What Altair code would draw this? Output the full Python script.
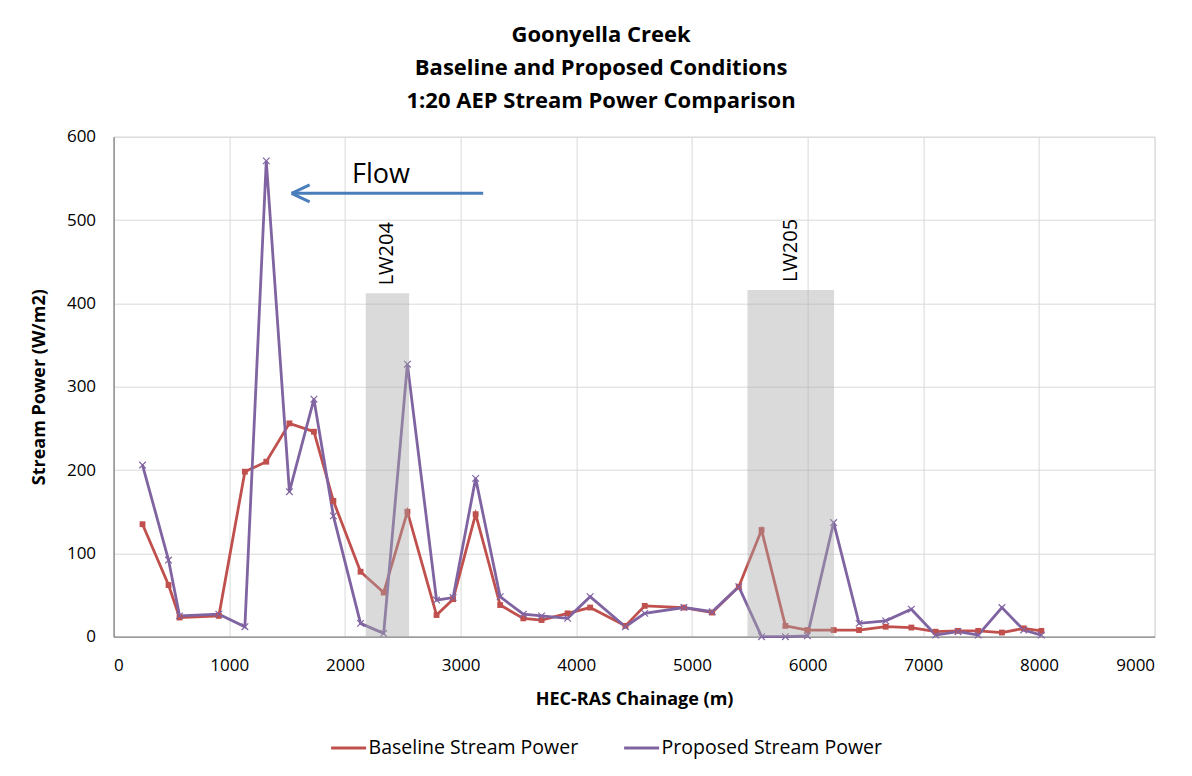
import altair as alt
import pandas as pd

# ---- data ----
chainage = [250, 475, 570, 910, 1135, 1320, 1520, 1732, 1900, 2135, 2335, 2540, 2792, 2935,
            3130, 3342, 3542, 3700, 3925, 4120, 4425, 4592, 4930, 5175, 5405, 5602, 5808,
            5998, 6225, 6445, 6675, 6897, 7107, 7300, 7475, 7680, 7868, 8021]
baseline = [135, 62, 23, 25, 198, 210, 256, 246, 163, 78, 53, 150, 26, 45,
            147, 38, 22, 20, 28, 35, 13, 37, 35, 29, 60, 128, 13,
            8, 8, 8, 12, 11, 6, 7, 7, 5, 10, 7]
proposed = [206, 92, 25, 27, 12, 571, 174, 285, 145, 16, 4, 327, 44, 47,
            190, 48, 27, 25, 22, 48, 12, 28, 35, 30, 60, 0, 0,
            1, 137, 16, 19, 33, 2, 6, 2, 35, 8, 2]

series_names = ["Baseline Stream Power", "Proposed Stream Power"]
series_colors = ["#C0504D", "#8064A2"]

lw_names = ["LW204", "LW205"]
lw_start = [2180, 5480]
lw_end = [2555, 6229]
lw_top = [412, 416]

flow_tail = [3195]
flow_head = [1539]
flow_y = [532]
flow_text_x = [2312]
flow_text_y = [544]

x_ticks = list(range(0, 9001, 1000))
y_ticks = list(range(0, 601, 100))

title_lines = ["Goonyella Creek", "Baseline and Proposed Conditions", "1:20 AEP Stream Power Comparison"]

# ---- tables ----
df = pd.concat([
    pd.DataFrame({"chainage": chainage, "value": baseline, "series": series_names[0]}),
    pd.DataFrame({"chainage": chainage, "value": proposed, "series": series_names[1]}),
], ignore_index=True)
lw_df = pd.DataFrame({"name": lw_names, "x0": lw_start, "x1": lw_end, "top": lw_top})
flow_df = pd.DataFrame({"tail": flow_tail, "head": flow_head, "y": flow_y,
                        "tx": flow_text_x, "ty": flow_text_y, "label": ["Flow"]})

FONT = "Open Sans"
W, H = 1041, 500

xs = alt.Scale(domain=[0, 9000], nice=False)
ys = alt.Scale(domain=[0, 600], nice=False)

axis_style = dict(ticks=False, labelFont=FONT, titleFont=FONT, labelFontSize=17, titleFontSize=18,
                  titleFontWeight="bold", labelColor="#000000", titleColor="#000000",
                  gridColor="#D9D9D9", gridWidth=1, domainColor="#868686", domainWidth=1.3,
                  format="d")
xax = alt.Axis(values=x_ticks, title="HEC-RAS Chainage (m)", labelPadding=21, titlePadding=17,
               **axis_style)
yax = alt.Axis(values=y_ticks, title="Stream Power (W/m2)", labelPadding=18, titlePadding=18,
               **axis_style)

color = alt.Color("series:N", scale=alt.Scale(domain=series_names, range=series_colors),
                  legend=alt.Legend(title=None, orient="none", direction="horizontal",
                                    legendX=216, legendY=592, symbolType="stroke",
                                    symbolSize=1225, symbolStrokeWidth=3, labelFontSize=19.5,
                                    labelFont=FONT, columnPadding=39, labelOffset=1,
                                    labelLimit=400, labelColor="#000000"))

base = alt.Chart(df)
lines = base.mark_line(strokeWidth=2.8).encode(
    x=alt.X("chainage:Q", scale=xs, axis=xax),
    y=alt.Y("value:Q", scale=ys, axis=yax),
    color=color,
)
sq = base.transform_filter(alt.datum.series == series_names[0]).mark_point(
    shape="square", filled=True, size=34, color=series_colors[0], opacity=1
).encode(x=alt.X("chainage:Q", scale=xs), y=alt.Y("value:Q", scale=ys))
xm = base.transform_filter(alt.datum.series == series_names[1]).mark_point(
    shape="M-1,-1L1,1M-1,1L1,-1", filled=False, size=44, strokeWidth=1.2,
    color=series_colors[1], opacity=1
).encode(x=alt.X("chainage:Q", scale=xs), y=alt.Y("value:Q", scale=ys))

rects = alt.Chart(lw_df).mark_rect(color="#A6A6A6", opacity=0.42).encode(
    x=alt.X("x0:Q", scale=xs), x2="x1:Q",
    y=alt.Y("top:Q", scale=ys), y2=alt.datum(0),
)
lw_labels = alt.Chart(lw_df).transform_calculate(xc="(datum.x0 + datum.x1) / 2").mark_text(
    angle=270, align="left", baseline="middle", dx=8, fontSize=20, font=FONT, color="#000000"
).encode(x=alt.X("xc:Q", scale=xs), y=alt.Y("top:Q", scale=ys), text="name:N")

arrow_line = alt.Chart(flow_df).mark_rule(color="#4A7EBB", strokeWidth=3).encode(
    x=alt.X("tail:Q", scale=xs), x2="head:Q", y=alt.Y("y:Q", scale=ys))
arrow_head = alt.Chart(flow_df).mark_point(
    shape="M0,0L1,-0.47M0,0L1,0.47", filled=False, size=1296, strokeWidth=3,
    color="#4A7EBB", opacity=1
).encode(x=alt.X("head:Q", scale=xs), y=alt.Y("y:Q", scale=ys))
flow_label = alt.Chart(flow_df).mark_text(
    fontSize=27, font=FONT, align="center", baseline="alphabetic", color="#000000"
).encode(x=alt.X("tx:Q", scale=xs), y=alt.Y("ty:Q", scale=ys), text="label:N")

chart = alt.layer(
    lines, sq, xm, rects, lw_labels, arrow_line, arrow_head, flow_label
).properties(
    width=W, height=H,
    title=alt.TitleParams(text=title_lines, fontSize=22, fontWeight="bold", font=FONT,
                          lineHeight=33, anchor="middle", offset=15, dx=-33, color="#000000"),
    autosize=alt.AutoSizeParams(type="none"),
    padding={"left": 105.6, "top": 128.7, "right": 29.4, "bottom": 131.3},
    background="white",
).configure_view(stroke="#D9D9D9")

chart.save("out.html", embed_options={"renderer": "svg", "actions": False})
